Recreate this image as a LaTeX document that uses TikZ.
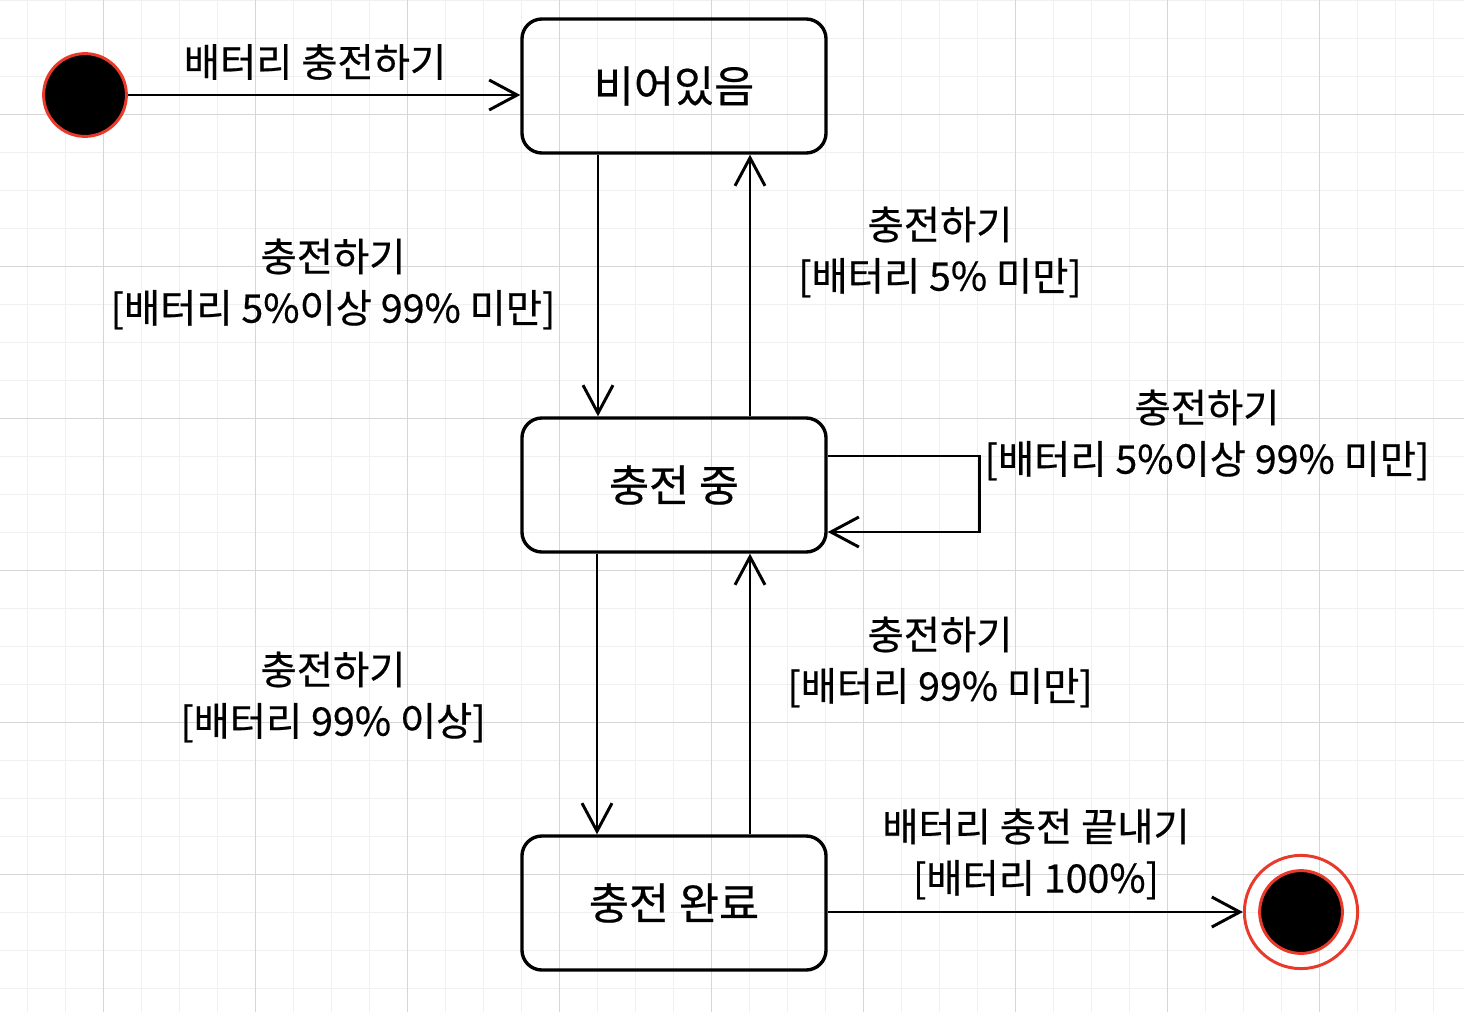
\documentclass[tikz,border=0pt]{standalone}
\usepackage{fontspec}
\newfontfamily\kr{Noto Sans CJK KR}[FakeBold=0.5]
\usetikzlibrary{arrows.meta,positioning,calc}
\definecolor{gridminor}{HTML}{F0F0F0}
\definecolor{gridmajor}{HTML}{D6D6D6}
\definecolor{pseudored}{HTML}{E8392B}
\tikzset{
  state/.style={draw, line width=2.4pt, rounded corners=5mm, minimum width=7.6cm, minimum height=3.35cm, inner sep=0pt, align=center, font=\kr\fontsize{31}{36}\selectfont},
  pseudo/.style={circle, fill=black, draw=pseudored, line width=2.1pt, minimum size=2.07cm, inner sep=0pt},
  endring/.style={circle, draw=pseudored, line width=2.1pt, minimum size=2.83cm, inner sep=0pt},
  trans/.style={-{Straight Barb[length=7mm,width=7.5mm]}, line width=2.1pt},
  lbl/.style={align=center, inner sep=0pt, font=\kr\fontsize{28}{36.5}\selectfont},
}
\begin{document}
\begin{tikzpicture}[x=0.025cm, y=-0.025cm]
  \useasboundingbox (0,0) rectangle (1464,1012);
  \fill[white] (0,0) rectangle (1464,1012);
  % grid
  \foreach \i in {0,...,37} { \draw[gridminor, line width=0.7pt] (27+\i*38,0) -- (27+\i*38,1012); }
  \foreach \j in {0,...,26} { \draw[gridminor, line width=0.7pt] (0,\j*38) -- (1464,\j*38); }
  \foreach \i in {0,...,8} { \draw[gridmajor, line width=0.7pt] (103+\i*152,0) -- (103+\i*152,1012); }
  \foreach \j in {0,...,5} { \draw[gridmajor, line width=0.7pt] (0,114+\j*152) -- (1464,114+\j*152); }
  % states
  \node[pseudo] (init) at (85,95) {};
  \node[state] (empty) at (674,86) {비어있음};
  \node[state] (charging) at (674,485) {충전 중};
  \node[state] (full) at (674,903) {충전 완료};
  \node[endring] (fin) at (1301,912) {};
  \node[pseudo] (finDot) at (fin) {};
  % transitions
  \draw[trans] (init) -- (init -| empty.west);
  \draw[trans] ($(empty.south)+(-76,0)$) -- ($(charging.north)+(-76,0)$);
  \draw[trans] ($(charging.north)+(76,0)$) -- ($(empty.south)+(76,0)$);
  \draw[trans] ($(charging.east)+(0,-29)$) -- ++(152,0) -- ++(0,76) -- ($(charging.east)+(0,47)$);
  \draw[trans] ($(charging.south)+(-77,0)$) -- ($(full.north)+(-77,0)$);
  \draw[trans] ($(full.north)+(76,0)$) -- ($(charging.south)+(76,0)$);
  \draw[trans] (fin -| full.east) -- (fin.west);
  % labels
  \node[lbl] (lblStart) at (315,62) {배터리 충전하기};
  \node[lbl] (lblCharge) at (333,284) {충전하기\\{}[배터리 5\%이상 99\% 미만]};
  \node[lbl] (lblLow) at (940,252) {충전하기\\{}[배터리 5\% 미만]};
  \node[lbl] (lblLoop) at (1207,435) {충전하기\\{}[배터리 5\%이상 99\% 미만]};
  \node[lbl] (lblHigh) at (333,697) {충전하기\\{}[배터리 99\% 이상]};
  \node[lbl] (lblBack) at (940,662) {충전하기\\{}[배터리 99\% 미만]};
  \node[lbl] (lblEnd) at (1036,854) {배터리 충전 끝내기\\{}[배터리 100\%]};
\end{tikzpicture}
\end{document}
